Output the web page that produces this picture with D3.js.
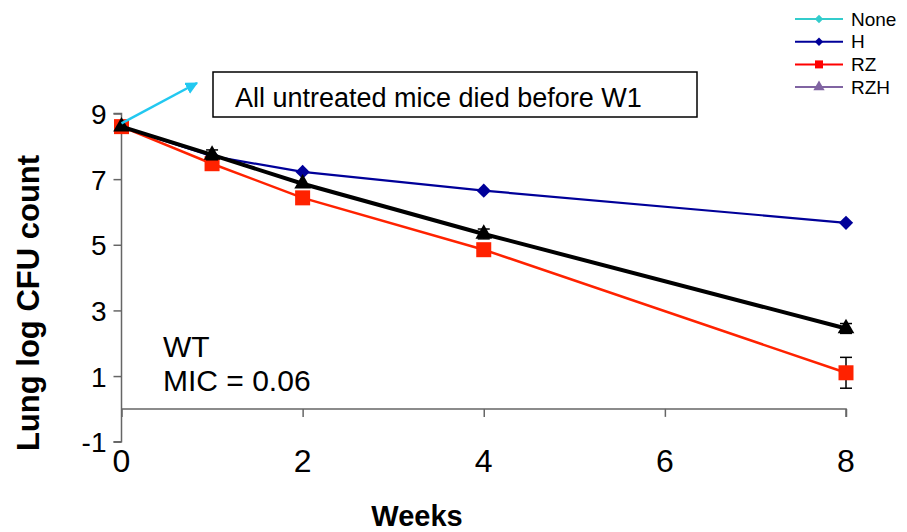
<!DOCTYPE html>
<html>
<head>
<meta charset="utf-8">
<script src="https://cdn.jsdelivr.net/npm/d3@7"></script>
<style>
  body { margin: 0; background: #fff; }
  text { font-family: "Liberation Sans", Arial, sans-serif; }
</style>
</head>
<body>
<div id="plot"></div>
<script>
// Data
const weeks = [0, 1, 2, 4, 8];
const hValues = [8.6, 7.7, 7.22, 6.65, 5.67];
const rzValues = [8.6, 7.47, 6.43, 4.85, 1.1];
const rzErr = [0, 0, 0, 0, 0.47];
const rzhValues = [8.6, 7.74, 6.86, 5.33, 2.45];
const rzhErr = [0, 0.15, 0, 0.15, 0.15];
const yTicks = [-1, 1, 3, 5, 7, 9];
const xTicks = [0, 2, 4, 6, 8];
const legendNames = ["None", "H", "RZ", "RZH"];
const legendColors = ["#33cccc", "#000099", "#ff0000", "#8064a2"];

const width = 907, height = 532;

const svg = d3.select("#plot")
  .append("svg")
  .attr("width", width)
  .attr("height", height);

// Scales
const x = d3.scaleLinear().domain([0, 8]).range([121.5, 846]);
const y = d3.scaleLinear().domain([-1, 9]).range([441.7, 113.5]);

// Y axis
const yAxis = svg.append("g")
  .attr("transform", `translate(${x(0)},0)`)
  .call(d3.axisLeft(y).tickValues(yTicks).tickSize(8).tickPadding(7).tickFormat(d => String(d)));
yAxis.select(".domain").attr("stroke", "#666").attr("stroke-width", 1.5)
  .attr("d", `M-8,${y(9)}H0V${y(-1)}H-8`);
yAxis.selectAll(".tick line").attr("stroke", "#666").attr("stroke-width", 1.5);
yAxis.selectAll(".tick text")
  .style("font-family", "Liberation Sans, Arial, sans-serif")
  .style("font-size", "28px").attr("fill", "#000").attr("dy", "0.36em");

// X axis along y = 0, labels below the plot
const xAxis = svg.append("g")
  .attr("transform", `translate(0,${y(0)})`)
  .call(d3.axisBottom(x).tickValues(xTicks).tickSize(8).tickFormat(""));
xAxis.select(".domain").attr("stroke", "#666").attr("stroke-width", 1.5)
  .attr("d", `M${x(0)},0H${x(8)}V8`);
xAxis.selectAll(".tick line").attr("stroke", "#666").attr("stroke-width", 1.5);

svg.append("g").selectAll("text")
  .data(xTicks)
  .enter()
  .append("text")
  .attr("x", d => x(d))
  .attr("y", 472)
  .attr("text-anchor", "middle")
  .style("font-size", "32px")
  .text(d => d);

// Axis titles
svg.append("text")
  .attr("transform", `translate(39,${303}) rotate(-90)`)
  .attr("text-anchor", "middle")
  .style("font-size", "31px")
  .style("font-weight", "bold")
  .text("Lung log CFU count");

svg.append("text")
  .attr("x", 417)
  .attr("y", 526)
  .attr("text-anchor", "middle")
  .style("font-size", "29px")
  .style("font-weight", "bold")
  .text("Weeks");

// Series helpers
const line = d3.line().x((d, i) => x(weeks[i])).y(d => y(d));

function errorBars(values, errs, color) {
  const g = svg.append("g").attr("stroke", color).attr("stroke-width", 1.5);
  values.forEach((v, i) => {
    if (!errs[i]) return;
    const cx = x(weeks[i]);
    g.append("line").attr("x1", cx).attr("x2", cx).attr("y1", y(v - errs[i])).attr("y2", y(v + errs[i]));
    [v - errs[i], v + errs[i]].forEach(e => {
      g.append("line").attr("x1", cx - 6).attr("x2", cx + 6).attr("y1", y(e)).attr("y2", y(e));
    });
  });
}

// H
svg.append("path").datum(hValues)
  .attr("d", line).attr("fill", "none").attr("stroke", "#000099").attr("stroke-width", 2.2);
svg.append("g").selectAll("path")
  .data(hValues)
  .enter()
  .append("path")
  .attr("d", d3.symbol(d3.symbolDiamond2, 130))
  .attr("transform", (d, i) => `translate(${x(weeks[i])},${y(d)})`)
  .attr("fill", "#000099");

// RZ
errorBars(rzValues, rzErr, "#000");
svg.append("path").datum(rzValues)
  .attr("d", line).attr("fill", "none").attr("stroke", "#ff2200").attr("stroke-width", 2.5);
svg.append("g").selectAll("rect")
  .data(rzValues)
  .enter()
  .append("rect")
  .attr("x", (d, i) => x(weeks[i]) - 7.5)
  .attr("y", d => y(d) - 7.5)
  .attr("width", 15)
  .attr("height", 15)
  .attr("fill", "#ff2200");

// RZH
errorBars(rzhValues, rzhErr, "#000");
svg.append("path").datum(rzhValues)
  .attr("d", line).attr("fill", "none").attr("stroke", "#000").attr("stroke-width", 4);
svg.append("g").selectAll("path")
  .data(rzhValues)
  .enter()
  .append("path")
  .attr("d", d3.symbol(d3.symbolTriangle, 120))
  .attr("transform", (d, i) => `translate(${x(weeks[i])},${y(d)})`)
  .attr("fill", "#000");

// Cyan arrow for untreated mice
svg.append("defs").append("marker")
  .attr("id", "arrow")
  .attr("viewBox", "0 0 10 10")
  .attr("refX", 9).attr("refY", 5)
  .attr("markerWidth", 5).attr("markerHeight", 5)
  .attr("orient", "auto")
  .append("path").attr("d", "M0,0L10,5L0,10Z").attr("fill", "#22c8f0");
svg.append("line")
  .attr("x1", x(0)).attr("y1", y(8.7))
  .attr("x2", 197).attr("y2", 83)
  .attr("stroke", "#22c8f0").attr("stroke-width", 2.5)
  .attr("marker-end", "url(#arrow)");

// Annotation box
svg.append("rect")
  .attr("x", 213).attr("y", 72).attr("width", 484).attr("height", 45)
  .attr("fill", "#fff").attr("stroke", "#000").attr("stroke-width", 1.5);
svg.append("text")
  .attr("x", 235).attr("y", 107)
  .style("font-size", "27px")
  .text("All untreated mice died before W1");

svg.append("text").attr("x", 163).attr("y", 357).style("font-size", "30px").text("WT");
svg.append("text").attr("x", 163).attr("y", 391).style("font-size", "30px").text("MIC = 0.06");

// Legend
const legend = svg.append("g");
legendNames.forEach((name, i) => {
  const ly = 19 + i * 22.7;
  const col = legendColors[i];
  legend.append("line").attr("x1", 795).attr("x2", 843).attr("y1", ly).attr("y2", ly)
    .attr("stroke", col).attr("stroke-width", 2);
  let sym;
  if (i < 2) sym = d3.symbol(d3.symbolDiamond2, 45);
  else if (i === 2) sym = d3.symbol(d3.symbolSquare, 64);
  else sym = d3.symbol(d3.symbolTriangle, 55);
  legend.append("path").attr("d", sym)
    .attr("transform", `translate(819,${ly})`)
    .attr("fill", col);
  legend.append("text").attr("x", 851).attr("y", ly + 6.5)
    .style("font-size", "19px").text(name);
});
</script>
</body>
</html>
